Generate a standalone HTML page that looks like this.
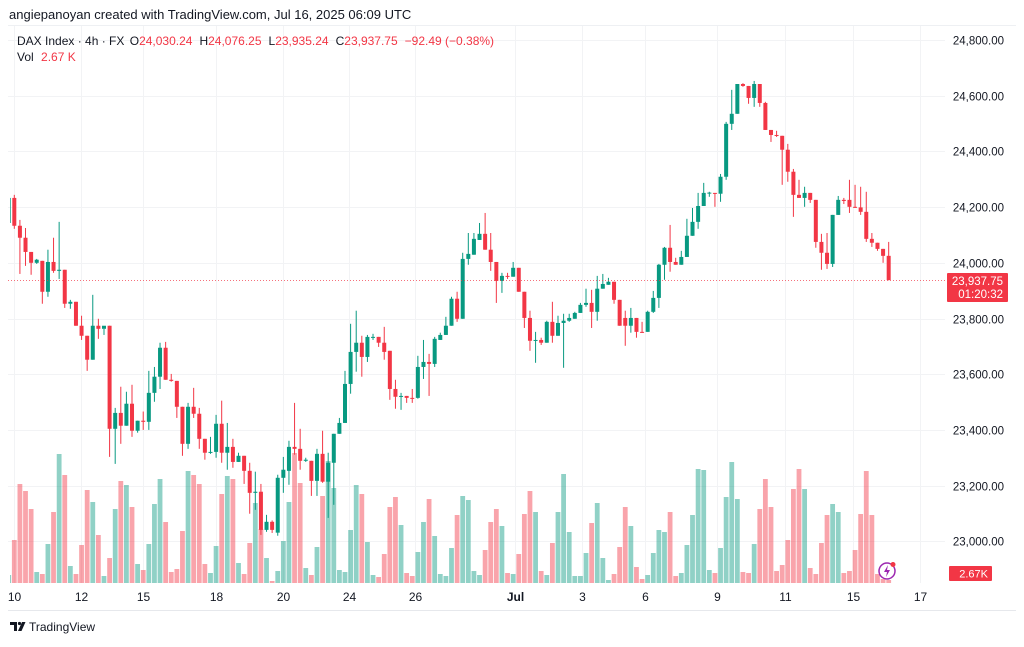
<!DOCTYPE html>
<html><head><meta charset="utf-8">
<style>
html,body{margin:0;padding:0;background:#fff;}
body{width:1024px;height:642px;overflow:hidden;font-family:"Liberation Sans",sans-serif;}
svg text{font-family:"Liberation Sans",sans-serif;}
</style></head>
<body>
<svg id="chart" width="1024" height="642" viewBox="0 0 1024 642" xmlns="http://www.w3.org/2000/svg">
  <defs><clipPath id="plotClip"><rect x="10" y="26" width="935" height="558"/></clipPath></defs>
  <text x="9" y="19" font-size="13" fill="#131722">angiepanoyan created with TradingView.com, Jul 16, 2025 06:09 UTC</text>
  <line x1="8" y1="25.5" x2="1016" y2="25.5" stroke="#eef0f3"/>
  <line x1="8" y1="610.5" x2="1016" y2="610.5" stroke="#e6e8ec"/>
  <g id="grid"></g>
  <g id="vol" clip-path="url(#plotClip)"></g>
  <g id="candles" clip-path="url(#plotClip)"></g>
  <line x1="8" y1="280.5" x2="945" y2="280.5" stroke="#f23645" stroke-width="1" stroke-dasharray="1,2" opacity="0.7"/>
  <g id="yaxis"></g>
  <g id="xaxis"></g>
  <g>
    <text x="17" y="45" font-size="12" fill="#131722">DAX Index · 4h · FX <tspan dx="2">O</tspan><tspan fill="#f23645">24,030.24</tspan><tspan dx="7">H</tspan><tspan fill="#f23645">24,076.25</tspan><tspan dx="7">L</tspan><tspan fill="#f23645">23,935.24</tspan><tspan dx="7">C</tspan><tspan fill="#f23645">23,937.75</tspan><tspan dx="7" fill="#f23645">−92.49 (−0.38%)</tspan></text>
    <text x="17" y="61" font-size="12" fill="#131722">Vol <tspan dx="4" fill="#f23645">2.67 K</tspan></text>
  </g>
  <g>
    <rect x="947" y="273" width="61" height="29" fill="#f23645" rx="1"/>
    <text x="1003" y="285" font-size="11.5" fill="#fff" text-anchor="end">23,937.75</text>
    <text x="1003" y="298" font-size="11.5" fill="#fff" text-anchor="end">01:20:32</text>
  </g>
  <g>
    <rect x="949" y="566" width="43" height="15" fill="#f23645" rx="1"/>
    <text x="988" y="577.5" font-size="11" fill="#fff" text-anchor="end">2.67K</text>
  </g>
  <g>
    <circle cx="887" cy="571" r="8" fill="#fff" stroke="#9c27b0" stroke-width="1.5"/>
    <path d="M888 565 L884 572 L887 572 L886 577 L890 570 L887 570 Z" fill="#9c27b0"/>
    <circle cx="893" cy="564.5" r="2.5" fill="#f23645"/>
  </g>
  <g>
    <path d="M10 622 h7 v9 h-3 v-6 h-4 z" fill="#131722"/>
    <circle cx="19.5" cy="623.5" r="1.6" fill="#131722"/>
    <path d="M22 622 h3.5 l-4 9 h-3.5 z" fill="#131722"/>
    <text x="29" y="631" font-size="12" fill="#131722">TradingView</text>
  </g>
</svg>
<script>
const opens=[24143,24233,24133,24090,24039,24000,24007,23896,24003,23971,23975,23853,23860,23774,23738,23652,23774,23763,23774,23404,23461,23415,23494,23397,23433,23429,23533,23591,23695,23580,23576,23483,23350,23483,23458,23368,23318,23321,23422,23318,23339,23285,23307,23253,23174,23178,23041,23070,23031,23228,23253,23339,23332,23289,23289,23217,23314,23214,23282,23386,23425,23565,23680,23713,23662,23731,23734,23713,23684,23547,23519,23522,23515,23515,23626,23644,23637,23723,23741,23774,23871,23799,24014,24029,24082,24104,24047,24003,23935,23953,23950,23982,23896,23802,23720,23723,23713,23788,23738,23784,23792,23799,23820,23849,23856,23824,23907,23921,23932,23867,23802,23774,23802,23752,23752,23824,23874,23993,24054,24003,23993,24021,24097,24147,24204,24251,24251,24248,24309,24499,24535,24642,24635,24592,24642,24574,24477,24459,24456,24406,24327,24244,24233,24251,24226,24075,24036,23996,24172,24226,24226,24201,24199,24183,24086,24072,24050,24025];
const highs=[24240,24244,24154,24125,24039,24014,24007,24047,24090,24147,23975,23867,23860,23810,23738,23885,23799,23763,23774,23479,23555,23537,23562,23433,23466,23612,23626,23713,23716,23601,23576,23483,23497,23551,23479,23368,23375,23454,23505,23425,23368,23318,23307,23282,23250,23206,23095,23075,23239,23303,23361,23497,23404,23300,23289,23332,23397,23318,23386,23443,23612,23781,23828,23738,23741,23745,23734,23770,23684,23580,23533,23522,23547,23666,23723,23673,23734,23749,23806,23878,23896,24036,24107,24107,24143,24179,24107,24003,23964,23964,24003,23982,23896,23828,23752,23731,23792,23860,23810,23817,23817,23824,23856,23907,23903,23953,23960,23946,23932,23867,23828,23838,23802,23788,23828,23899,23996,24057,24136,24018,24043,24158,24197,24251,24287,24255,24251,24319,24506,24621,24642,24645,24635,24653,24642,24578,24477,24474,24456,24427,24337,24298,24273,24251,24226,24104,24107,24172,24240,24233,24298,24280,24273,24255,24107,24072,24050,24075];
const lows=[24139,24122,23960,23989,23957,23996,23853,23878,23964,23942,23838,23835,23774,23723,23612,23652,23727,23741,23303,23278,23350,23415,23375,23390,23400,23400,23501,23547,23580,23573,23443,23307,23332,23443,23332,23293,23314,23300,23282,23257,23264,23285,23206,23099,23113,23023,23034,23030,23020,23174,23203,23311,23257,23285,23163,23163,23210,23084,23131,23386,23425,23530,23609,23591,23644,23723,23698,23652,23508,23476,23472,23497,23497,23512,23583,23522,23626,23723,23741,23774,23788,23799,23993,24029,24082,24047,23971,23856,23892,23942,23950,23896,23766,23684,23641,23705,23713,23713,23738,23623,23788,23799,23820,23842,23766,23792,23907,23921,23853,23774,23702,23749,23731,23748,23752,23820,23838,23939,23968,23993,23993,24021,24097,24122,24204,24237,24201,24219,24298,24477,24535,24632,24571,24560,24560,24477,24434,24452,24280,24291,24165,24233,24201,24215,24054,23975,23978,23985,24172,24211,24179,24197,24172,24075,24057,24043,24000,23937];
const closes=[24233,24133,24090,24039,24000,24011,23896,24003,23971,23975,23853,23860,23774,23738,23652,23774,23763,23774,23404,23461,23415,23494,23397,23433,23429,23533,23591,23695,23580,23576,23483,23350,23483,23458,23368,23318,23321,23422,23318,23339,23285,23307,23253,23174,23178,23041,23070,23041,23228,23257,23339,23332,23289,23293,23217,23314,23214,23282,23386,23425,23565,23680,23713,23662,23734,23734,23713,23680,23547,23519,23522,23515,23512,23626,23644,23637,23727,23741,23774,23871,23799,24014,24032,24086,24104,24047,24003,23935,23953,23950,23982,23896,23802,23720,23723,23713,23788,23738,23784,23792,23802,23820,23849,23856,23824,23907,23924,23932,23867,23774,23774,23802,23752,23749,23824,23874,23993,24054,24003,23993,24021,24097,24147,24204,24251,24252,24248,24309,24499,24535,24642,24635,24592,24642,24574,24477,24459,24456,24406,24327,24244,24233,24251,24226,24075,24036,23996,24172,24226,24222,24201,24199,24183,24086,24072,24050,24025,23938];
const volumes=[8,43,99,92,74,11,9,39,71,129,108,17,9,38,93,81,48,7,25,74,102,98,76,19,13,39,79,104,61,11,14,52,112,108,99,19,10,37,89,107,104,20,9,40,80,54,25,2,12,42,81,130,100,15,8,36,87,122,95,13,11,53,98,89,41,8,6,29,76,86,58,10,7,31,61,84,47,9,7,35,68,87,83,12,8,33,61,74,57,10,9,29,69,92,71,12,8,40,71,109,51,7,7,30,60,80,25,3,9,36,76,57,16,4,8,30,53,51,71,7,10,38,68,114,113,13,10,35,86,121,84,11,10,39,74,104,76,12,18,43,94,114,94,15,9,40,68,79,71,10,12,33,69,112,68,9,4,3];
const priceTicks=[24800,24600,24400,24200,24000,23800,23600,23400,23200,23000];
const priceTickLabels=["24,800.00","24,600.00","24,400.00","24,200.00","24,000.00","23,800.00","23,600.00","23,400.00","23,200.00","23,000.00"];
const timeLabels=["10","12","15","18","20","24","26","Jul","3","6","9","11","15","17"];
const timeLabelBars=[0.9,12.9,24.0,36.9,48.9,60.8,72.4,90.3,102.3,113.5,126.4,138.5,150.6,162.6];

const NS="http://www.w3.org/2000/svg";
function yP(p){return 40+(24800-p)*0.2785;}
function xB(i){return 8.7+i*5.605;}
function yV(v){return 583-v*1.0;}
function mk(tag,attrs,parent){const e=document.createElementNS(NS,tag);for(const k in attrs)e.setAttribute(k,attrs[k]);parent.appendChild(e);return e;}

const grid=document.getElementById('grid');
const yaxis=document.getElementById('yaxis');
priceTicks.forEach((p,i)=>{
  const y=Math.round(yP(p))+0.5;
  const gl=mk('line',{x1:8,y1:y,x2:945,y2:y,stroke:'#f2f3f5'},grid);
  
  
  const t=mk('text',{x:1004,y:y+4,'font-size':11.5,fill:'#131722','text-anchor':'end'},yaxis);
  t.textContent=priceTickLabels[i];
  
  
});
const xaxis=document.getElementById('xaxis');
timeLabels.forEach((lab,i)=>{
  const x=Math.round(xB(timeLabelBars[i]))+0.5;
  const gl=mk('line',{x1:x,y1:26,x2:x,y2:583,stroke:'#f2f3f5'},grid);
  
  
  const t=mk('text',{x:x,y:601,'font-size':12,fill:'#131722','text-anchor':'middle','font-weight':lab==='Jul'?'bold':'normal'},xaxis);
  t.textContent=lab;
  
  
});

const vol=document.getElementById('vol');
volumes.forEach((v,i)=>{
  const up=closes[i]>=opens[i];
  const top=yV(v);
  const r=mk('rect',{x:xB(i)-2.4,y:top,width:4.8,height:583-top,fill:up?'rgba(8,153,129,0.45)':'rgba(242,54,69,0.45)'},vol);
  
  
});

const cg=document.getElementById('candles');
opens.forEach((o,i)=>{
  const c=closes[i],up=c>=o,col=up?'#089981':'#f23645';
  const x=xB(i);
  const g=mk('g',{},cg);
  
  
  mk('line',{x1:x,y1:yP(highs[i]),x2:x,y2:yP(lows[i]),stroke:col,'stroke-width':1},g);
  const t=yP(Math.max(o,c)),b=yP(Math.min(o,c));
  mk('rect',{x:x-2,y:t,width:4,height:Math.max(1,b-t),fill:col},g);
});
</script>
</body></html>
